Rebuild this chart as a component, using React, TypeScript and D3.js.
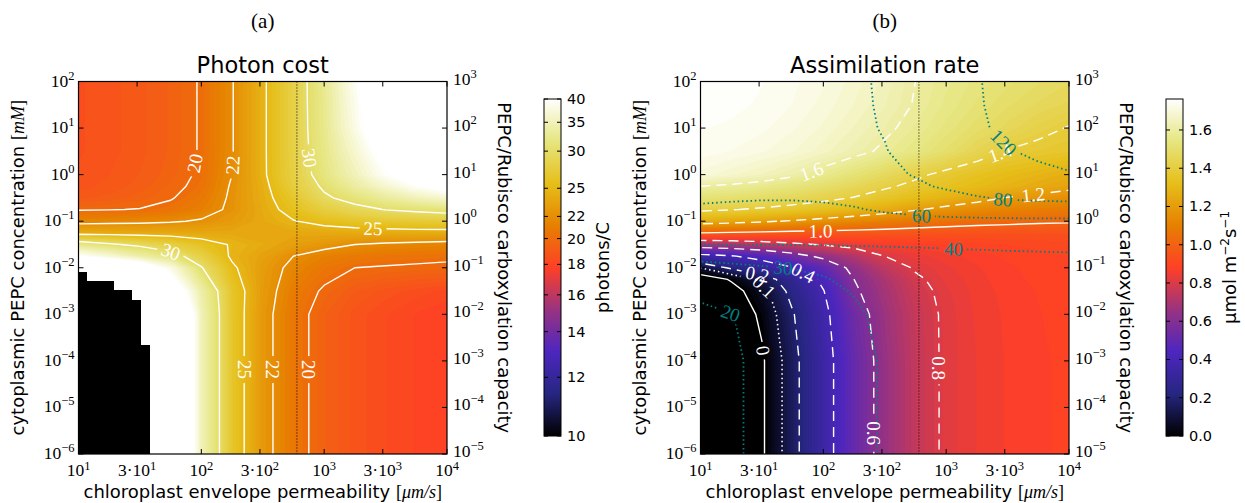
import React from "react";
import * as d3 from "d3";

const W = 1245;
const H = 503;
const SANS = "'DejaVu Sans', 'Noto Sans', sans-serif";
const SERIF = "'Liberation Serif', 'DejaVu Serif', serif";

// chloroplast envelope permeability [um/s] -> grid columns (both panels)
const permeability = [10, 17.8, 31.6, 56.2, 100, 178, 316, 562, 1000, 1780, 3160, 5620, 10000];
const referencePermeability = 600;

// (a) photon cost [photons/C], rows = cytoplasmic PEPC concentration [mM], top row first
const costConc = [100, 10, 3.16, 1, 0.562, 0.316, 0.178, 0.1, 0.0562, 0.0316, 0.0178, 0.01, 0.00316, 0.001, 1e-6];
const photonCost = [
  [18.5, 18.7, 19.0, 19.4, 20.1, 21.9, 24.6, 28.0, 32.5, 39.0, 48.0, 60.0, 70.0],
  [18.5, 18.7, 19.0, 19.4, 20.1, 21.9, 24.6, 28.0, 32.3, 38.0, 45.0, 55.0, 62.0],
  [18.5, 18.7, 19.0, 19.4, 20.1, 21.9, 24.6, 28.0, 32.0, 36.5, 42.0, 50.0, 56.0],
  [18.6, 18.8, 19.1, 19.5, 20.2, 22.0, 24.6, 27.8, 31.5, 35.0, 39.5, 44.0, 48.0],
  [18.7, 18.9, 19.2, 19.7, 20.3, 22.2, 24.3, 27.5, 30.5, 33.5, 36.5, 39.5, 42.0],
  [19.0, 19.2, 19.5, 19.9, 20.7, 22.3, 24.2, 26.6, 29.5, 31.2, 33.2, 35.0, 36.5],
  [19.9, 19.95, 20.05, 20.4, 21.1, 22.4, 24.0, 25.9, 27.6, 29.0, 30.1, 30.7, 31.2],
  [21.4, 21.5, 21.6, 21.8, 22.2, 22.9, 23.9, 24.9, 25.7, 26.3, 26.8, 27.1, 27.3],
  [24.0, 24.0, 23.9, 23.9, 23.8, 23.8, 23.8, 23.8, 23.9, 24.0, 24.0, 24.1, 24.1],
  [32.0, 30.5, 29.2, 27.8, 26.1, 24.8, 24.0, 23.2, 22.6, 22.0, 21.7, 21.5, 21.3],
  [40.0, 37.0, 34.0, 31.5, 28.0, 24.6, 23.4, 22.0, 21.2, 20.8, 20.5, 20.4, 20.3],
  [55.0, 50.0, 45.0, 38.0, 30.2, 25.4, 23.0, 21.5, 20.6, 20.0, 19.9, 19.8, 19.7],
  [60.0, 60.0, 55.0, 45.0, 34.0, 26.5, 22.9, 20.9, 19.8, 19.1, 18.7, 18.4, 18.2],
  [60.0, 60.0, 60.0, 55.0, 35.0, 26.5, 22.7, 20.6, 19.4, 18.7, 18.3, 18.0, 17.8],
  [60.0, 60.0, 60.0, 55.0, 35.0, 26.5, 22.7, 20.6, 19.4, 18.7, 18.3, 18.0, 17.8],
];
const costLevels = [20, 22, 25, 30];
const costTicks = [10, 12, 14, 16, 18, 20, 22, 25, 30, 35, 40];
// staircase of cells without a solution (black) in (a)
const noSolutionEdges = [10, 11.7, 19.5, 27.3, 32.4, 38.3];
const noSolutionTop = [8.3e-3, 5.2e-3, 3.3e-3, 2.0e-3, 2.2e-4];
const costLabels = [
  { level: 20, x: 84, y: 1.8 },
  { level: 22, x: 182, y: 1.6 },
  { level: 30, x: 771, y: 2.3 },
  { level: 25, x: 2500, y: 0.07 },
  { level: 30, x: 56, y: 0.021 },
  { level: 25, x: 219, y: 6.5e-5 },
  { level: 22, x: 363, y: 6.5e-5 },
  { level: 20, x: 741, y: 6.5e-5 },
];

// (b) assimilation rate [umol m-2 s-1], rows = PEPC concentration [mM], top row first
const rateConc = [100, 31.6, 10, 3.16, 1, 0.562, 0.316, 0.178, 0.1, 0.0562, 0.0316, 0.0178, 0.01, 0.00562, 0.00316, 0.001, 1e-4, 1e-6];
const assimilation = [
  [1.76, 1.755, 1.745, 1.73, 1.71, 1.68, 1.645, 1.6, 1.565, 1.535, 1.51, 1.49, 1.47],
  [1.755, 1.75, 1.74, 1.725, 1.7, 1.67, 1.635, 1.595, 1.555, 1.52, 1.49, 1.465, 1.445],
  [1.745, 1.74, 1.73, 1.71, 1.685, 1.65, 1.615, 1.575, 1.535, 1.495, 1.46, 1.425, 1.395],
  [1.735, 1.725, 1.71, 1.69, 1.66, 1.625, 1.585, 1.545, 1.5, 1.445, 1.395, 1.375, 1.36],
  [1.7, 1.675, 1.65, 1.615, 1.57, 1.52, 1.47, 1.42, 1.375, 1.34, 1.31, 1.285, 1.26],
  [1.6, 1.585, 1.565, 1.535, 1.5, 1.46, 1.415, 1.375, 1.34, 1.31, 1.28, 1.25, 1.225],
  [1.52, 1.505, 1.485, 1.46, 1.43, 1.395, 1.355, 1.315, 1.275, 1.235, 1.195, 1.175, 1.15],
  [1.42, 1.405, 1.385, 1.36, 1.33, 1.295, 1.255, 1.21, 1.17, 1.14, 1.115, 1.095, 1.08],
  [1.26, 1.24, 1.215, 1.19, 1.16, 1.13, 1.1, 1.07, 1.05, 1.035, 1.025, 1.015, 1.01],
  [1.0, 0.99, 0.98, 0.97, 0.965, 0.96, 0.955, 0.95, 0.945, 0.94, 0.94, 0.94, 0.94],
  [0.69, 0.71, 0.74, 0.775, 0.81, 0.84, 0.86, 0.875, 0.885, 0.893, 0.9, 0.905, 0.91],
  [0.35, 0.39, 0.45, 0.54, 0.635, 0.715, 0.8, 0.835, 0.855, 0.872, 0.885, 0.893, 0.9],
  [0.1, 0.22, 0.31, 0.395, 0.49, 0.64, 0.74, 0.81, 0.84, 0.86, 0.877, 0.888, 0.895],
  [-0.07, 0.01, 0.13, 0.28, 0.43, 0.6, 0.7, 0.785, 0.83, 0.856, 0.874, 0.886, 0.893],
  [-0.15, -0.04, 0.06, 0.24, 0.395, 0.58, 0.685, 0.77, 0.822, 0.852, 0.87, 0.882, 0.89],
  [-0.2, -0.08, 0.02, 0.19, 0.365, 0.535, 0.665, 0.755, 0.815, 0.848, 0.867, 0.88, 0.888],
  [-0.25, -0.12, -0.015, 0.16, 0.345, 0.51, 0.65, 0.75, 0.815, 0.845, 0.865, 0.878, 0.885],
  [-0.25, -0.12, -0.015, 0.16, 0.345, 0.51, 0.65, 0.75, 0.815, 0.845, 0.865, 0.878, 0.885],
];
const rateLevels = [0, 0.1, 0.2, 0.4, 0.6, 0.8, 1.0, 1.2, 1.4, 1.6];
const rateTicks = [0, 0.2, 0.4, 0.6, 0.8, 1.0, 1.2, 1.4, 1.6];
const rateMax = 1.762;
const rateLabels = [
  { level: 1.6, x: 81, y: 1.08 },
  { level: 1.4, x: 2750, y: 2.9 },
  { level: 1.2, x: 5100, y: 0.41 },
  { level: 1.0, x: 95, y: 0.056 },
  { level: 0.4, x: 69, y: 0.0081 },
  { level: 0.2, x: 29.5, y: 0.0089 },
  { level: 0.1, x: 34, y: 0.0043 },
  { level: 0, x: 35, y: 1.7e-4 },
  { level: 0.6, x: 250, y: 2.8e-6 },
  { level: 0.8, x: 850, y: 7e-5 },
];

// (b) teal dotted contour quantity, same grid as assimilation
const tealField = [
  [66, 67, 68.5, 70.5, 73.5, 77.5, 82, 91, 102, 117, 135, 155, 175],
  [65.8, 66.8, 68.3, 70.3, 73.2, 77.2, 81.7, 90, 101, 116, 133, 151, 168],
  [65.5, 66.5, 68, 70, 72.8, 76.7, 81, 88.5, 99, 113.5, 129, 144, 158],
  [65, 66, 67.5, 69.3, 72, 75.5, 79.2, 86, 95, 106, 117.5, 127, 135],
  [64, 65, 66.3, 68, 70.2, 73, 76.5, 81, 88, 96, 104, 111, 117],
  [63, 63.5, 64.5, 65.8, 67.5, 70, 73, 77, 82.5, 88, 93, 97, 100],
  [61.5, 61, 60.7, 60.8, 61.5, 63, 65.5, 69, 73.5, 78.5, 82, 83.5, 84.5],
  [58.5, 58, 57.3, 57, 57.5, 59, 61.5, 64, 66, 67.5, 68.7, 69.5, 70],
  [54, 54, 53.5, 53.5, 54, 54.5, 55.3, 56, 56.5, 56.8, 57, 57, 57],
  [47, 47, 47, 47, 47.2, 47.5, 48, 48.5, 49, 49.3, 49.5, 49.7, 49.8],
  [40, 40.1, 40.2, 40.4, 40.6, 40.8, 41, 41.2, 41.4, 41.6, 41.8, 41.9, 42],
  [31.2, 31.6, 32.2, 32.8, 33.6, 34.6, 35.6, 36.6, 37.4, 38, 38.5, 38.8, 39.1],
  [28.6, 29.1, 29.6, 30.1, 31, 32.3, 33.6, 34.8, 35.7, 36.4, 37, 37.4, 37.7],
  [26, 27, 28, 29, 29.6, 31.3, 32.8, 34.1, 35.1, 35.8, 36.4, 36.8, 37.1],
  [23, 24.5, 26, 27.5, 28.8, 30.3, 32, 33.5, 34.6, 35.4, 36, 36.4, 36.7],
  [16.8, 19.8, 22.2, 24.2, 26.3, 29.2, 31.2, 32.8, 34, 34.8, 35.4, 35.8, 36.1],
  [16, 19, 21.5, 23.5, 25.5, 28.5, 30.5, 32.2, 33.5, 34.4, 35, 35.4, 35.7],
  [16, 19, 21.5, 23.5, 25.5, 28.5, 30.5, 32.2, 33.5, 34.4, 35, 35.4, 35.7],
];
const tealLevels = [20, 30, 40, 60, 80, 120];
const tealLabels = [
  { level: 120, x: 2900, y: 4.8 },
  { level: 80, x: 2900, y: 0.29 },
  { level: 60, x: 630, y: 0.135 },
  { level: 40, x: 1150, y: 0.026 },
  { level: 30, x: 47, y: 0.0115 },
  { level: 20, x: 17, y: 8.3e-4 },
];

const xTicks = [10, 30, 100, 300, 1000, 3000, 10000];

// matplotlib CMRmap
const cmr = d3
  .scaleLinear<string>()
  .domain([0, 0.125, 0.25, 0.375, 0.5, 0.625, 0.75, 0.875, 1])
  .range(["#000000", "#262680", "#4d26bf", "#993380", "#ff4026", "#e68000", "#e6bf1a", "#e6e680", "#ffffff"])
  .interpolate(d3.interpolateRgb)
  .clamp(true);

function gridProjector(xs, ys, xScale, yScale) {
  const ix = d3.scaleLinear().domain(xs.map((_, i) => i + 0.5)).range(xs.map((v) => Math.log10(v)));
  const iy = d3.scaleLinear().domain(ys.map((_, i) => i + 0.5)).range(ys.map((v) => Math.log10(v)));
  return (p) => [xScale(Math.pow(10, ix(p[0]))), yScale(Math.pow(10, iy(p[1])))];
}

function pathFor(project) {
  return d3.geoPath(
    d3.geoTransform({
      point: function (x, y) {
        const p = project([x, y]);
        this.stream.point(p[0], p[1]);
      },
    })
  );
}

// snap a label to the nearest point of its contour line, take the local slope
function placeLabel(mp, project, tx, ty, box) {
  let best = null;
  let bd = Infinity;
  for (const poly of mp.coordinates) {
    for (const ring of poly) {
      const pts = ring.map(project);
      for (let i = 0; i < pts.length - 1; i++) {
        const [ax, ay] = pts[i];
        const [bx, by] = pts[i + 1];
        const dx = bx - ax, dy = by - ay;
        const L2 = dx * dx + dy * dy || 1;
        let t = ((tx - ax) * dx + (ty - ay) * dy) / L2;
        t = Math.max(0, Math.min(1, t));
        const px = ax + t * dx, py = ay + t * dy;
        if (px < box.x0 + 3 || px > box.x1 - 3 || py < box.y0 + 3 || py > box.y1 - 3) continue;
        const d = (px - tx) ** 2 + (py - ty) ** 2;
        if (d < bd) {
          bd = d;
          let a = (Math.atan2(dy, dx) * 180) / Math.PI;
          if (a > 90) a -= 180;
          if (a <= -90) a += 180;
          best = { x: px, y: py, angle: a };
        }
      }
    }
  }
  return best;
}

function textWidth(s, size) {
  let w = 0;
  for (const c of s) w += c === "." ? 0.28 : 0.5;
  return w * size;
}

function powText(v) {
  const k = Math.floor(Math.log10(v) + 1e-9);
  const m = Math.round(v / Math.pow(10, k));
  return { prefix: m === 1 ? "10" : `${m}\u00b710`, exp: k < 0 ? `\u2212${-k}` : `${k}` };
}

function PowLabel({ v, x, y, anchor, sup = -7 }) {
  const p = powText(v);
  return (
    <text x={x} y={y} textAnchor={anchor} fontFamily={SERIF} fontSize={17.5} fill="#000">
      {p.prefix}
      <tspan dy={sup} fontSize={12.5}>{p.exp}</tspan>
    </text>
  );
}

function HeatPanel({ id, box, cb, title, tag, conc, field, tScale, lineSets, cbTicks, cbFormat, cbLabel, blackout }) {
  const xScale = d3.scaleLog().domain([10, 1e4]).range([box.x0, box.x1]);
  const yScale = d3.scaleLog().domain([1e-6, 1e2]).range([box.y1, box.y0]);
  const yRight = d3.scaleLog().domain([1e-5, 1e3]).range([box.y1, box.y0]);
  const nx = permeability.length;
  const ny = conc.length;
  const project = gridProjector(permeability, conc, xScale, yScale);
  const path = pathFor(project);
  const N = 96;
  const values = field.flat();
  const bandThr = d3.range(1, N + 1).map((k) => tScale.invert(k / N));
  const bands = d3.contours().size([nx, ny]).thresholds(bandThr)(values);

  const sets = lineSets.map((s) => {
    const vals = s.field.flat();
    const cs = d3.contours().size([nx, ny]).thresholds(s.levels)(vals);
    const byLevel = (lv) => cs.find((c) => Math.abs(c.value - lv) < 1e-9);
    const labels = s.labels
      .map((l) => {
        const c = byLevel(l.level);
        if (!c) return null;
        const p = placeLabel(c, project, xScale(l.x), yScale(l.y), box);
        if (!p) return null;
        const text = s.format(l.level);
        return { ...p, text, w: textWidth(text, 19) + 8 };
      })
      .filter(Boolean);
    return { ...s, cs, labels };
  });

  const cx = (box.x0 + box.x1) / 2;
  const cy = (box.y0 + box.y1) / 2;
  const cbScale = (v) => cb.y1 - tScale(v) * (cb.y1 - cb.y0);
  const decadesL = d3.range(-6, 3).map((k) => Math.pow(10, k));
  const decadesR = d3.range(-5, 4).map((k) => Math.pow(10, k));
  const refX = xScale(referencePermeability);

  return (
    <g>
      <defs>
        <clipPath id={`clip-${id}`}>
          <rect x={box.x0} y={box.y0} width={box.x1 - box.x0} height={box.y1 - box.y0} />
        </clipPath>
        <linearGradient id={`grad-${id}`} x1="0" y1="1" x2="0" y2="0">
          {[0, 0.125, 0.25, 0.375, 0.5, 0.625, 0.75, 0.875, 1].map((t) => (
            <stop key={t} offset={t} stopColor={cmr(t)} />
          ))}
        </linearGradient>
        {sets.map((s, si) => (
          <mask key={si} id={`mask-${id}-${si}`} maskUnits="userSpaceOnUse" x={0} y={0} width={W} height={H}>
            <rect x={0} y={0} width={W} height={H} fill="white" />
            {s.labels.map((l, i) => (
              <rect
                key={i}
                x={-l.w / 2}
                y={-9}
                width={l.w}
                height={18}
                fill="black"
                transform={`translate(${l.x},${l.y}) rotate(${l.angle})`}
              />
            ))}
          </mask>
        ))}
      </defs>

      <g clipPath={`url(#clip-${id})`}>
        <rect x={box.x0} y={box.y0} width={box.x1 - box.x0} height={box.y1 - box.y0} fill={cmr(0)} />
        {bands.map((c, k) => (
          <path key={k} d={path(c)} fill={cmr(Math.min(1, (k + 1.5) / N))} />
        ))}
        {blackout &&
          blackout.top.map((t, i) => {
            const xa = xScale(blackout.edges[i]);
            const xb = xScale(blackout.edges[i + 1]);
            const yt = yScale(t);
            return <rect key={i} x={xa - 1} y={yt} width={xb - xa + 1} height={box.y1 - yt + 1} fill="#000" shapeRendering="crispEdges" />;
          })}
        {sets.map((s, si) => (
          <g key={si} mask={`url(#mask-${id}-${si})`}>
            {s.cs.map((c, i) => {
              const st = s.style(c.value);
              return (
                <path key={i} d={path(c)} fill="none" stroke={s.color} strokeWidth={st.width} strokeDasharray={st.dash} />
              );
            })}
          </g>
        ))}
        <line x1={refX} x2={refX} y1={box.y0} y2={box.y1} stroke="#000" strokeWidth={1} strokeDasharray="1,2" />
        {sets.map((s, si) =>
          s.labels.map((l, i) => (
            <text
              key={`${si}-${i}`}
              transform={`translate(${l.x},${l.y}) rotate(${l.angle})`}
              textAnchor="middle"
              dy="0.35em"
              fontFamily={SERIF}
              fontSize={19}
              fill={s.color}
            >
              {l.text}
            </text>
          ))
        )}
      </g>

      {/* frame and ticks */}
      <rect x={box.x0} y={box.y0} width={box.x1 - box.x0} height={box.y1 - box.y0} fill="none" stroke="#000" strokeWidth={1.2} />
      {xTicks.map((v) => (
        <g key={v}>
          <line x1={xScale(v)} x2={xScale(v)} y1={box.y1} y2={box.y1 - 5} stroke="#000" />
          <line x1={xScale(v)} x2={xScale(v)} y1={box.y0} y2={box.y0 + 5} stroke="#000" />
          <PowLabel v={v} x={xScale(v)} y={box.y1 + 22} anchor="middle" sup={-6} />
        </g>
      ))}
      {decadesL.map((v) => (
        <g key={v}>
          <line x1={box.x0} x2={box.x0 + 5} y1={yScale(v)} y2={yScale(v)} stroke="#000" />
          <PowLabel v={v} x={box.x0 - 4} y={yScale(v) + 5} anchor="end" />
        </g>
      ))}
      {decadesR.map((v) => (
        <g key={v}>
          <line x1={box.x1} x2={box.x1 - 5} y1={yRight(v)} y2={yRight(v)} stroke="#000" />
          <PowLabel v={v} x={box.x1 + 6} y={yRight(v) + 3} anchor="start" />
        </g>
      ))}

      <text x={cx} y={28} textAnchor="middle" fontFamily={SERIF} fontSize={21}>{tag}</text>
      <text x={cx} y={73} textAnchor="middle" fontFamily={SANS} fontSize={22.5}>{title}</text>
      <text x={cx} y={498} textAnchor="middle" fontFamily={SANS} fontSize={18}>
        chloroplast envelope permeability <tspan fontFamily={SERIF}>[</tspan>
        <tspan fontFamily={SERIF} fontStyle="italic">{"\u03bcm/s"}</tspan>
        <tspan fontFamily={SERIF}>]</tspan>
      </text>
      <text transform={`translate(${box.x0 - 55},${cy}) rotate(-90)`} textAnchor="middle" fontFamily={SANS} fontSize={18}>
        cytoplasmic PEPC concentration <tspan fontFamily={SERIF}>[</tspan>
        <tspan fontFamily={SERIF} fontStyle="italic">mM</tspan>
        <tspan fontFamily={SERIF}>]</tspan>
      </text>
      <text transform={`translate(${box.x1 + 51},${cy}) rotate(90)`} textAnchor="middle" fontFamily={SANS} fontSize={18}>
        PEPC/Rubisco carboxylation capacity
      </text>

      {/* colorbar */}
      <rect x={cb.x0} y={cb.y0} width={cb.x1 - cb.x0} height={cb.y1 - cb.y0} fill={`url(#grad-${id})`} stroke="#000" strokeWidth={1} />
      {cbTicks.map((v) => (
        <g key={v}>
          <line x1={cb.x1} x2={cb.x1 - 4} y1={cbScale(v)} y2={cbScale(v)} stroke="#000" />
          <line x1={cb.x0} x2={cb.x0 + 4} y1={cbScale(v)} y2={cbScale(v)} stroke="#000" />
          <text x={cb.x1 + 6} y={cbScale(v) + 5} fontFamily={SANS} fontSize={14.5}>{cbFormat(v)}</text>
        </g>
      ))}
      {cbLabel}
    </g>
  );
}

export default function App() {
  const boxA = { x0: 78.5, x1: 447, y0: 81.5, y1: 454 };
  const boxB = { x0: 700.5, x1: 1069, y0: 81.5, y1: 454 };
  const cbA = { x0: 544, x1: 561, y0: 99, y1: 436 };
  const cbB = { x0: 1166, x1: 1183, y0: 99, y1: 436 };
  const tA = d3.scalePow().exponent(-0.5).domain([10, 40]).range([0, 1]);
  const tB = d3.scaleLinear().domain([0, rateMax]).range([0, 1]);
  const midA = (cbA.y0 + cbA.y1) / 2;

  return (
    <div style={{ position: "absolute", left: 0, top: 0 }}>
      <svg width={W} height={H} style={{ display: "block", background: "#fff" }}>
        <HeatPanel
          id="a"
          box={boxA}
          cb={cbA}
          title="Photon cost"
          tag="(a)"
          conc={costConc}
          field={photonCost}
          tScale={tA}
          blackout={{ edges: noSolutionEdges, top: noSolutionTop }}
          lineSets={[
            {
              field: photonCost,
              levels: costLevels,
              labels: costLabels,
              color: "#ffffff",
              format: (v) => `${v}`,
              style: () => ({ width: 1.4, dash: null }),
            },
          ]}
          cbTicks={costTicks}
          cbFormat={(v) => `${v}`}
          cbLabel={
            <text transform={`translate(609,${midA}) rotate(-90)`} textAnchor="middle" fontFamily={SANS} fontSize={18}>
              photons/C
            </text>
          }
        />
        <HeatPanel
          id="b"
          box={boxB}
          cb={cbB}
          title="Assimilation rate"
          tag="(b)"
          conc={rateConc}
          field={assimilation}
          tScale={tB}
          blackout={null}
          lineSets={[
            {
              field: assimilation,
              levels: rateLevels,
              labels: rateLabels,
              color: "#ffffff",
              format: (v) => (v === 0 ? "0" : v.toFixed(1)),
              style: (v) =>
                v === 0 || v === 1
                  ? { width: 1.4, dash: null }
                  : Math.abs(v - 0.1) < 1e-9
                  ? { width: 1.6, dash: "1.5,3" }
                  : { width: 1.4, dash: "10,6" },
            },
            {
              field: tealField,
              levels: tealLevels,
              labels: tealLabels,
              color: "#008080",
              format: (v) => `${v}`,
              style: () => ({ width: 1.8, dash: "1.5,2.8" }),
            },
          ]}
          cbTicks={rateTicks}
          cbFormat={(v) => v.toFixed(1)}
          cbLabel={
            <text transform={`translate(1236,${midA}) rotate(-90)`} textAnchor="middle" fontFamily={SANS} fontSize={18}>
              {"\u03bcmol m"}
              <tspan dy={-7} fontSize={12}>{"\u22122"}</tspan>
              <tspan dy={7}>s</tspan>
              <tspan dy={-7} fontSize={12}>{"\u22121"}</tspan>
            </text>
          }
        />
      </svg>
    </div>
  );
}
